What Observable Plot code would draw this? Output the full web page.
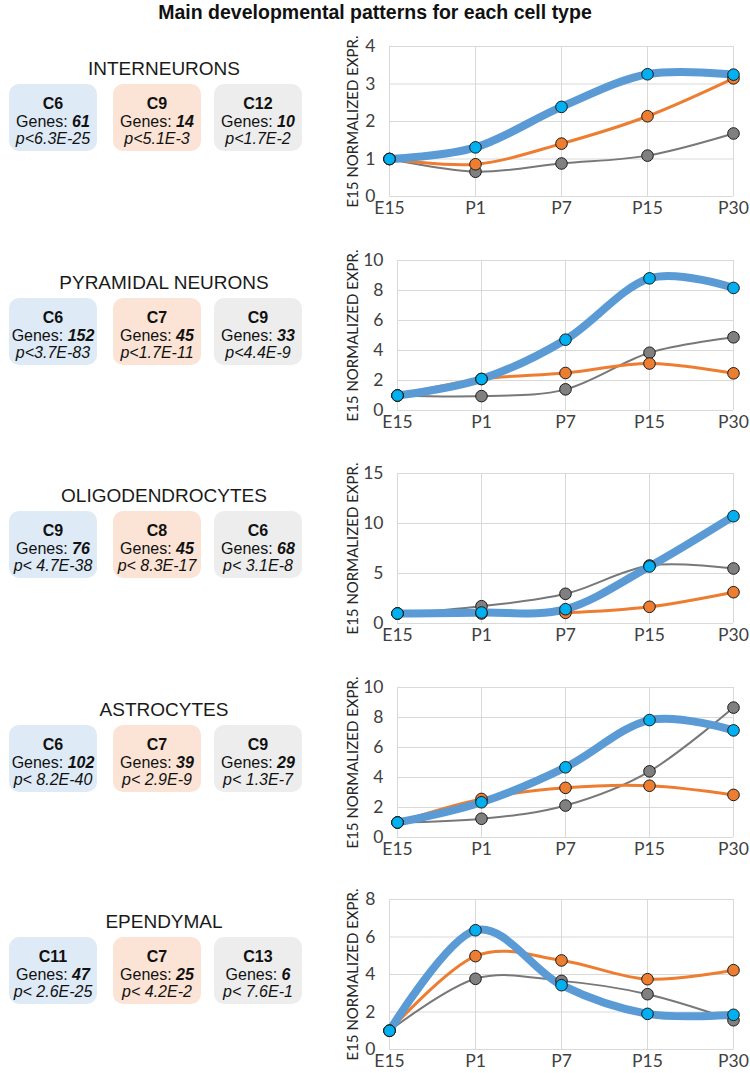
<!DOCTYPE html>
<html><head><meta charset="utf-8">
<script src="https://cdn.jsdelivr.net/npm/d3@7"></script>
<script src="https://cdn.jsdelivr.net/npm/@observablehq/plot@0.6"></script>
<style>
body{margin:0;background:#fff}
#root{position:relative;width:750px;height:1073px;overflow:hidden;background:#fff}
.panel{position:absolute;left:320px}
</style>
</head><body><div id="root"></div>
<script>
// ---------- DATA ----------
const title = "Main developmental patterns for each cell type";
const stages = ["E15", "P1", "P7", "P15", "P30"];
const cellTypes = ["INTERNEURONS", "PYRAMIDAL NEURONS", "OLIGODENDROCYTES", "ASTROCYTES", "EPENDYMAL"];
const clusters = [["C6","C9","C12"], ["C6","C7","C9"], ["C9","C8","C6"], ["C6","C7","C9"], ["C11","C7","C13"]];
const geneCounts = [[61,14,10], [152,45,33], [76,45,68], [102,39,29], [47,25,6]];
const pValues = [
  ["p<6.3E-25", "p<5.1E-3", "p<1.7E-2"],
  ["p<3.7E-83", "p<1.7E-11", "p<4.4E-9"],
  ["p< 4.7E-38", "p< 8.3E-17", "p< 3.1E-8"],
  ["p< 8.2E-40", "p< 2.9E-9", "p< 1.3E-7"],
  ["p< 2.6E-25", "p< 4.2E-2", "p< 7.6E-1"]
];
// first cluster (blue), second (orange), third (gray) - per panel, per stage
const blueValues = [
  [1, 1.31, 2.39, 3.26, 3.25],
  [1, 2.10, 4.72, 8.81, 8.17],
  [1, 1.10, 1.43, 5.70, 10.73],
  [1, 2.35, 4.68, 7.83, 7.14],
  [1, 6.36, 3.43, 1.90, 1.85]
];
const orangeValues = [
  [1, 0.86, 1.41, 2.14, 3.15],
  [1, 2.10, 2.50, 3.13, 2.48],
  [1, 1.00, 1.07, 1.67, 3.13],
  [1, 2.57, 3.31, 3.45, 2.84],
  [1, 4.98, 4.75, 3.75, 4.23]
];
const grayValues = [
  [1, 0.66, 0.88, 1.09, 1.68],
  [1, 0.96, 1.41, 3.85, 4.88],
  [1, 1.73, 2.97, 5.80, 5.50],
  [1, 1.25, 2.13, 4.41, 8.66],
  [1, 3.77, 3.66, 2.95, 1.56]
];
const yMax = [4, 10, 15, 10, 8];
const yStep = [1, 2, 5, 2, 2];
const yLabel = "E15 NORMALIZED EXPR.";

// ---------- STYLE / LAYOUT ----------
const seriesStyle = [
  {line: "#5B9BD5", width: 8, dot: "#00B0F0", box: "#DEEAF6"},
  {line: "#ED7D31", width: 3, dot: "#ED7D31", box: "#FBE4D5"},
  {line: "#787878", width: 2, dot: "#808080", box: "#EDEDED"}
];
const frameTop = [46, 260, 473, 687, 899];
const boxLeft = [9, 113, 214];
const boxW = 88, boxH = 67;
const root = document.getElementById("root");

// background svg: title + left column
const svg = d3.select(root).append("svg")
  .attr("width", 750).attr("height", 1073)
  .style("position", "absolute").style("left", 0).style("top", 0)
  .style("font-family", "'Liberation Sans', Arial, sans-serif");

svg.append("text").attr("x", 375).attr("y", 19).attr("text-anchor", "middle")
  .attr("font-size", 19.5).attr("font-weight", "bold").attr("fill", "#111").text(title);

cellTypes.forEach((ct, i) => {
  const t = frameTop[i];
  svg.append("text").attr("x", 164).attr("y", t + 29).attr("text-anchor", "middle")
    .attr("font-size", 19).attr("fill", "#1a1a1a").text(ct);
  const by = t + 38;
  for (let k = 0; k < 3; k++) {
    const bx = boxLeft[k];
    svg.append("rect").attr("x", bx).attr("y", by).attr("width", boxW).attr("height", boxH)
      .attr("rx", 10).attr("fill", seriesStyle[k].box);
    const cx = bx + boxW / 2;
    svg.append("text").attr("x", cx).attr("y", by + 25).attr("text-anchor", "middle")
      .attr("font-size", 16).attr("font-weight", "bold").attr("fill", "#111").text(clusters[i][k]);
    const g = svg.append("text").attr("x", cx).attr("y", by + 43).attr("text-anchor", "middle")
      .attr("font-size", 16).attr("fill", "#111");
    g.append("tspan").text("Genes: ");
    g.append("tspan").attr("font-weight", "bold").attr("font-style", "italic").text(geneCounts[i][k]);
    svg.append("text").attr("x", cx).attr("y", by + 60).attr("text-anchor", "middle")
      .attr("font-size", 16).attr("font-style", "italic").attr("fill", "#111").text(pValues[i][k]);
  }
});

// ---------- CHARTS ----------
const allValues = [blueValues, orangeValues, grayValues];
cellTypes.forEach((ct, i) => {
  const ml = yMax[i] >= 10 ? 77 : 69;
  const ticks = d3.range(0, yMax[i] + 0.001, yStep[i]);
  const series = [0, 1, 2].map(k => stages.map((s, j) => ({stage: s, value: allValues[k][i][j]})));
  const lineMarks = [2, 1, 0].map(k => Plot.line(series[k], {
    x: "stage", y: "value", stroke: seriesStyle[k].line, strokeWidth: seriesStyle[k].width,
    curve: "cardinal", tension: 0
  }));
  const dotMarks = [2, 1, 0].map(k => Plot.dot(series[k], {
    x: "stage", y: "value", r: 5.8, fill: seriesStyle[k].dot, stroke: "#1a1a1a", strokeWidth: 1
  }));
  const chart = Plot.plot({
    width: 430, height: 190,
    marginTop: 10, marginBottom: 30, marginLeft: ml, marginRight: 17,
    style: {fontFamily: "Lato, 'Liberation Sans', sans-serif", fontSize: "17.5px", color: "#404040", background: "transparent", overflow: "visible"},
    x: {type: "point", domain: stages, padding: 0},
    y: {domain: [0, yMax[i]]},
    marks: [
      Plot.gridX(stages, {stroke: "#D9D9D9", strokeOpacity: 1, strokeWidth: 1}),
      Plot.gridY(ticks, {stroke: "#D9D9D9", strokeOpacity: 1, strokeWidth: 1}),
      Plot.axisX({tickSize: 0, tickPadding: 5, label: null, fontSize: 17.5}),
      Plot.axisY(ticks, {tickSize: 0, tickPadding: 14, label: null, fontSize: 17.5}),
      Plot.text([yLabel], {frameAnchor: "left", dx: 353 - (320 + ml), rotate: -90,
        textAnchor: "middle", lineAnchor: "middle", fontSize: 15, fill: "#262626"}),
      ...lineMarks,
      ...dotMarks
    ]
  });
  chart.classList.add("panel");
  chart.style.top = (frameTop[i] - 10) + "px";
  root.appendChild(chart);
});
</script></body></html>
